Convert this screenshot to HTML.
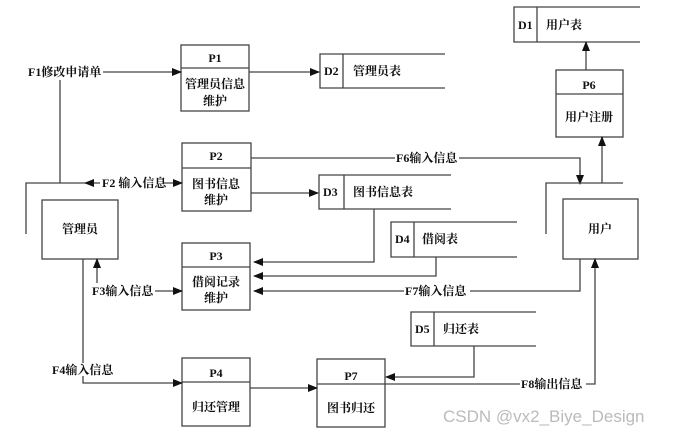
<!DOCTYPE html>
<html><head><meta charset="utf-8"><style>
html,body{margin:0;padding:0;background:#fff;}
svg text{font-family:"Liberation Serif","Noto Serif CJK SC",serif;font-weight:bold;font-size:12px;fill:#111;}
</style></head><body>
<svg width="675" height="437" viewBox="0 0 675 437" xmlns="http://www.w3.org/2000/svg">
<defs><marker id="a" markerWidth="10" markerHeight="8" refX="9" refY="4" orient="auto" markerUnits="userSpaceOnUse"><path d="M0,0L10,4L0,8z" fill="#111"/></marker></defs>
<g fill="none" stroke="#444" stroke-width="1.3">
<!-- processes -->
<rect x="181" y="45" width="68" height="66"/><line x1="181" y1="68" x2="249" y2="68"/>
<rect x="182" y="143" width="69" height="68"/><line x1="182" y1="168" x2="251" y2="168"/>
<rect x="182" y="243" width="68" height="67"/><line x1="182" y1="267" x2="250" y2="267"/>
<rect x="182" y="358" width="68" height="68"/><line x1="182" y1="382" x2="250" y2="382"/>
<rect x="317" y="359" width="68" height="68"/><line x1="317" y1="384" x2="385" y2="384"/>
<rect x="556" y="70" width="67" height="67"/><line x1="556" y1="94" x2="623" y2="94"/>
<!-- entities -->
<rect x="42" y="200" width="76" height="59"/>
<rect x="563" y="199" width="75" height="60"/>
<!-- data stores -->
<path d="M640,7H514V42H640M537,7V42"/>
<path d="M445,54H320V88H445M343,54V88"/>
<path d="M451,175H319V209H451M344,175V209"/>
<path d="M517,222H391V257H517M414,222V257"/>
<path d="M536,312H411V346H536M434,312V346"/>
<!-- flows -->
<line x1="103" y1="72" x2="181" y2="72" marker-end="url(#a)"/>
<line x1="249" y1="72" x2="319" y2="72" marker-end="url(#a)"/>
<path d="M60,80V183M26,234V183H85"/>
<line x1="100" y1="183" x2="85" y2="183" marker-end="url(#a)"/>
<line x1="164" y1="183" x2="182" y2="183" marker-end="url(#a)"/>
<line x1="251" y1="193" x2="318" y2="193" marker-end="url(#a)"/>
<path d="M251,158H395M459,158H580V183" />
<line x1="580" y1="170" x2="580" y2="184" marker-end="url(#a)"/>
<path d="M546,234V183H623"/>
<line x1="602" y1="183" x2="602" y2="137" marker-end="url(#a)"/>
<line x1="586" y1="70" x2="586" y2="42" marker-end="url(#a)"/>
<path d="M374,209V262H254" marker-end="url(#a)"/>
<path d="M436,257V276H254" marker-end="url(#a)"/>
<path d="M580,259V291H470"/>
<line x1="404" y1="291" x2="254" y2="291" marker-end="url(#a)"/>
<line x1="97" y1="283" x2="97" y2="259" marker-end="url(#a)"/>
<line x1="155" y1="291" x2="182" y2="291" marker-end="url(#a)"/>
<path d="M83,259V363M83,376V383H182" marker-end="url(#a)"/>
<line x1="250" y1="388" x2="317" y2="388" marker-end="url(#a)"/>
<path d="M474,346V377H386" marker-end="url(#a)"/>
<path d="M385,384H520M586,384H595V259" marker-end="url(#a)"/>
</g>
<text x="215" y="62" text-anchor="middle">P1</text>
<text x="215" y="88" text-anchor="middle">管理员信息</text>
<text x="215" y="105" text-anchor="middle">维护</text>
<text x="216" y="160" text-anchor="middle">P2</text>
<text x="216" y="188" text-anchor="middle">图书信息</text>
<text x="216" y="204" text-anchor="middle">维护</text>
<text x="216" y="260" text-anchor="middle">P3</text>
<text x="216" y="286" text-anchor="middle">借阅记录</text>
<text x="216" y="302" text-anchor="middle">维护</text>
<text x="216" y="377" text-anchor="middle">P4</text>
<text x="216" y="411" text-anchor="middle">归还管理</text>
<text x="351" y="380" text-anchor="middle">P7</text>
<text x="351" y="412" text-anchor="middle">图书归还</text>
<text x="589" y="89" text-anchor="middle">P6</text>
<text x="589" y="121" text-anchor="middle">用户注册</text>
<text x="80" y="233" text-anchor="middle">管理员</text>
<text x="600" y="233" text-anchor="middle">用户</text>
<text x="518" y="29">D1</text><text x="546" y="29">用户表</text>
<text x="324" y="75">D2</text><text x="353" y="75">管理员表</text>
<text x="323" y="196">D3</text><text x="353" y="196">图书信息表</text>
<text x="395" y="243">D4</text><text x="422" y="243">借阅表</text>
<text x="415" y="333">D5</text><text x="443" y="333">归还表</text>
<text x="28" y="76">F1修改申请单</text>
<text x="102" y="187">F2 输入信息</text>
<text x="396" y="162">F6输入信息</text>
<text x="92" y="295">F3输入信息</text>
<text x="405" y="295">F7输入信息</text>
<text x="52" y="374">F4输入信息</text>
<text x="521" y="388">F8输出信息</text>
<text x="443" y="422" style="font-family:'Liberation Sans',sans-serif;font-weight:normal;font-size:17px;fill:#bbb">CSDN @vx2_Biye_Design</text>
</svg>
</body></html>
